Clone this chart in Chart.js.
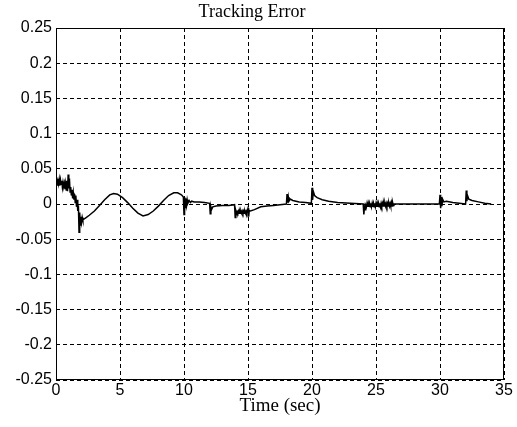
<!DOCTYPE html>
<html>
<head>
<meta charset="utf-8">
<script src="https://cdn.jsdelivr.net/npm/chart.js@4.4.1/dist/chart.umd.min.js"></script>
<style>
  html, body { margin: 0; padding: 0; background: #fff; }
  #wrap { width: 517px; height: 427px; }
</style>
</head>
<body>
<div id="wrap"><canvas id="errChart"></canvas></div>
<script>
// tick values / labels
var xTickValues = [0, 5, 10, 15, 20, 25, 30, 35];
var xTickLabels = ['0', '5', '10', '15', '20', '25', '30', '35'];
var yTickValues = [-0.25, -0.2, -0.15, -0.1, -0.05, 0, 0.05, 0.1, 0.15, 0.2, 0.25];
var yTickLabels = ['-0.25', '-0.2', '-0.15', '-0.1', '-0.05', '0', '0.05', '0.1', '0.15', '0.2', '0.25'];

// time (sec) and tracking error
var timeSec = [
  0.00, 0.05, 0.10, 0.15, 0.20, 0.25, 0.30, 0.35, 0.40, 0.45, 0.50, 0.55, 0.60, 0.65, 0.70, 0.75,
  0.80, 0.85, 0.90, 0.95, 1.00, 1.05, 1.10, 1.15, 1.20, 1.25, 1.30, 1.35, 1.40, 1.45, 1.50, 1.55,
  1.60, 1.65, 1.70, 1.75, 1.80, 1.85, 1.90, 1.95, 2.00, 2.05, 2.10, 2.20, 2.30,
  2.6, 3.0, 3.4, 3.8, 4.2, 4.5, 4.8, 5.2, 5.6, 6.0, 6.4, 6.8, 7.2, 7.6, 8.0, 8.4, 8.8, 9.2, 9.5, 9.8, 9.95,
  10.00, 10.03, 10.06, 10.09, 10.12, 10.15, 10.20, 10.25, 10.30, 10.40, 10.50, 10.60, 10.80, 11.2, 11.6, 12.0,
  12.05, 12.10, 12.15, 12.25, 12.5, 13.0, 13.5, 13.95,
  14.00, 14.05, 14.10, 14.15, 14.20, 14.25, 14.30, 14.35, 14.40, 14.45, 14.50, 14.55, 14.60, 14.65, 14.70,
  14.75, 14.80, 14.85, 14.90, 15.00, 15.05, 15.10, 15.20,
  15.5, 16.0, 16.5, 17.0, 17.5, 18.0,
  18.05, 18.10, 18.15, 18.20, 18.30, 18.5, 19.0, 19.5, 19.95,
  20.00, 20.05, 20.10, 20.20, 20.40, 20.8, 21.3, 22.0, 23.0, 24.0,
  24.05, 24.10, 24.15, 24.20, 24.25, 24.30, 24.35, 24.40, 24.45, 24.50, 24.55, 24.60, 24.65, 24.70, 24.75,
  24.80, 24.85, 24.90, 24.95, 25.00, 25.05, 25.10, 25.15, 25.20, 25.25, 25.30, 25.35, 25.40, 25.45, 25.50,
  25.55, 25.60, 25.65, 25.70, 25.75, 25.80, 25.85, 25.90, 25.95, 26.00, 26.05, 26.10, 26.15, 26.20, 26.25,
  26.30, 26.35, 26.40, 26.6, 27.5, 28.5, 29.5, 29.95,
  30.00, 30.05, 30.10, 30.15, 30.20, 30.30, 30.5, 31.0, 31.5, 32.0,
  32.05, 32.10, 32.15, 32.25, 32.5, 33.0, 33.5, 34.0
];
var errorVal = [
  0.030, 0.038, 0.027, 0.036, 0.029, 0.035, 0.026, 0.034, 0.028, 0.033, 0.024, 0.031, 0.026, 0.030, 0.021, 0.029,
  0.020, 0.033, 0.018, 0.042, 0.022, 0.036, 0.017, 0.024, 0.012, 0.020, 0.008, 0.016, 0.006, 0.014, 0.002, 0.012,
  -0.004, 0.006, -0.010, -0.002, -0.040, -0.012, -0.030, -0.018, -0.026, -0.019, -0.023, -0.021, -0.020,
  -0.016, -0.010, -0.002, 0.006, 0.013, 0.015, 0.014, 0.009, 0.002, -0.006, -0.013, -0.017, -0.015, -0.010, -0.003, 0.005, 0.012, 0.016, 0.016, 0.013, 0.010,
  -0.015, 0.010, -0.010, 0.008, -0.006, 0.007, -0.002, 0.006, 0.001, 0.005, 0.002, 0.004, 0.003, 0.003, 0.002, 0.001,
  -0.014, -0.004, -0.008, -0.004, -0.003, -0.002, -0.002, -0.001,
  -0.019, -0.010, -0.014, -0.011, -0.013, -0.010, -0.013, -0.010, -0.013, -0.010, -0.013, -0.010, -0.013, -0.010, -0.013,
  -0.010, -0.013, -0.010, -0.013, -0.006, -0.018, -0.009, -0.010,
  -0.008, -0.004, -0.003, -0.002, -0.001, 0.000,
  0.014, 0.002, 0.010, 0.004, 0.007, 0.005, 0.003, 0.002, 0.001,
  0.023, 0.006, 0.018, 0.012, 0.009, 0.006, 0.004, 0.002, 0.001, 0.000,
  -0.015, -0.004, -0.008, -0.002, -0.004, 0.001, -0.004, 0.001, -0.004, 0.001, -0.004, 0.001, -0.004, 0.001, -0.004,
  0.001, -0.004, 0.001, -0.004, 0.001, -0.004, 0.001, -0.004, 0.001, -0.004, 0.001, -0.004, 0.001, -0.003, 0.001,
  -0.003, 0.001, -0.003, 0.001, -0.003, 0.001, -0.003, 0.001, -0.003, 0.001, -0.003, 0.001, -0.003, 0.002, -0.003,
  0.002, -0.002, 0.000, 0.000, 0.000, 0.000, 0.000, 0.000,
  0.013, -0.006, 0.010, -0.003, 0.007, 0.003, 0.004, 0.002, 0.001, 0.000,
  0.019, 0.004, 0.012, 0.007, 0.005, 0.003, 0.001, 0.000
];

var points = timeSec.map(function (t, i) { return { x: t, y: errorVal[i] }; });

// solid box round the plot area
var boxPlugin = {
  id: 'box',
  afterDraw: function (chart) {
    var a = chart.chartArea, c = chart.ctx;
    c.save();
    c.strokeStyle = '#000';
    c.lineWidth = 1;
    c.setLineDash([]);
    c.strokeRect(a.left + 0.5, a.top + 0.5, a.right - a.left - 1, a.bottom - a.top - 1);
    c.restore();
  }
};

new Chart(document.getElementById('errChart'), {
  type: 'line',
  data: {
    datasets: [{
      data: points,
      borderColor: '#000',
      borderWidth: 1.5,
      pointRadius: 0,
      tension: 0,
      fill: false
    }]
  },
  plugins: [boxPlugin],
  options: {
    responsive: true,
    maintainAspectRatio: false,
    animation: false,
    layout: { padding: { left: 0, right: 13, top: 0, bottom: 0 } },
    plugins: {
      legend: { display: false },
      tooltip: { enabled: false },
      title: {
        display: true,
        text: 'Tracking Error',
        color: '#000',
        font: { family: '"Liberation Serif", "Times New Roman", serif', size: 18, weight: 'normal' },
        padding: { top: 1, bottom: 5.4 }
      }
    },
    scales: {
      x: {
        type: 'linear',
        min: 0,
        max: 35,
        afterBuildTicks: function (s) { s.ticks = xTickValues.map(function (v) { return { value: v }; }); },
        afterFit: function (s) { s.height = 47; },
        ticks: {
          color: '#000',
          padding: 1,
          maxRotation: 0,
          font: { family: '"Liberation Sans", Arial, sans-serif', size: 16 },
          callback: function (v, i) { return xTickLabels[i]; }
        },
        grid: { color: '#000', lineWidth: 1, drawTicks: false, tickLength: 0 },
        border: { display: false, dash: [4, 3] },
        title: {
          display: true,
          text: 'Time (sec)',
          color: '#000',
          font: { family: '"Liberation Serif", "Times New Roman", serif', size: 19 },
          padding: { top: 0, bottom: 10 }
        }
      },
      y: {
        type: 'linear',
        min: -0.25,
        max: 0.25,
        afterBuildTicks: function (s) { s.ticks = yTickValues.map(function (v) { return { value: v }; }); },
        afterFit: function (s) { s.width = 56; },
        ticks: {
          color: '#000',
          padding: 4,
          font: { family: '"Liberation Sans", Arial, sans-serif', size: 16 },
          callback: function (v, i) { return yTickLabels[i]; }
        },
        grid: { color: '#000', lineWidth: 1, drawTicks: false, tickLength: 0 },
        border: { display: false, dash: [4, 3] }
      }
    }
  }
});
</script>
</body>
</html>
